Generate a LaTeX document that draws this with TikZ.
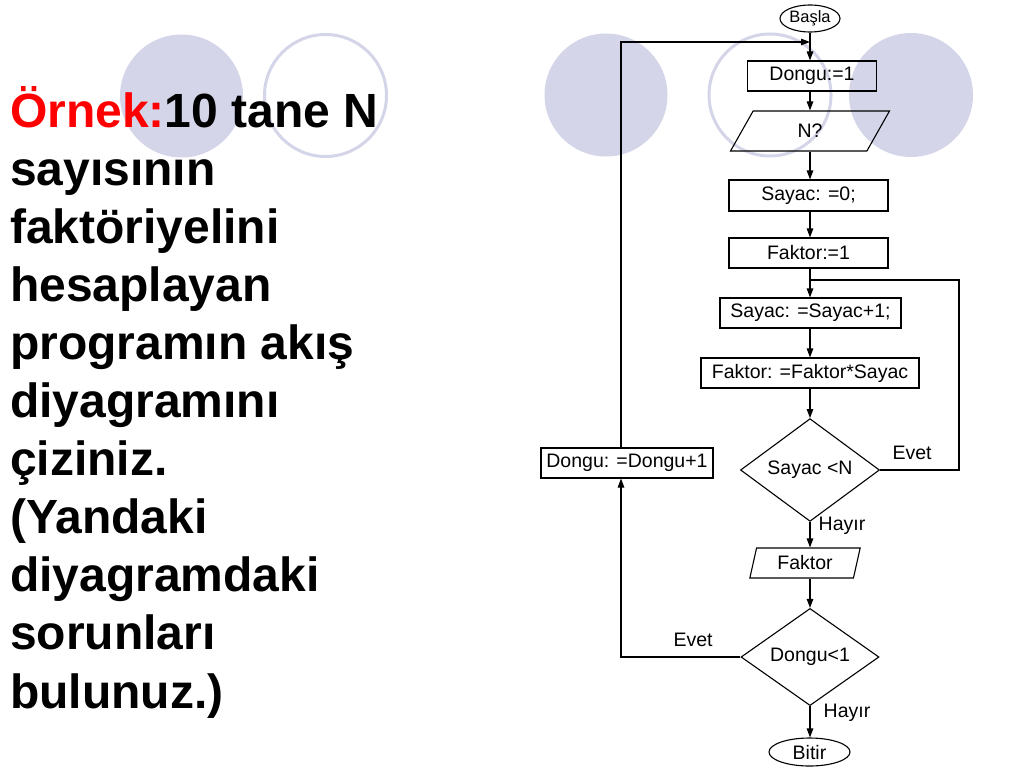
\documentclass[tikz,border=0pt]{standalone}
\usepackage{fontspec}
\setmainfont{Liberation Sans}
\usetikzlibrary{shapes.geometric,arrows.meta}
\definecolor{lavender}{RGB}{213,213,234}
\newcommand\flowfont{\fontsize{19.5}{23}\selectfont}
\tikzset{
  box/.style={draw, line width=1.1pt, inner sep=0pt, minimum height=30pt, font=\flowfont},
  io/.style={box, trapezium, trapezium left angle=70, trapezium right angle=110, trapezium stretches=true},
  term/.style={box, ellipse},
  cond/.style={box, diamond},
  lbl/.style={inner sep=0pt, font=\flowfont},
  flow/.style={line width=1.1pt, -{Triangle[length=9pt,width=6.5pt]}},
  link/.style={line width=1.1pt},
  title/.style={inner sep=0pt, anchor=base west, font=\fontsize{48}{58}\selectfont\bfseries},
}
\begin{document}
\begin{tikzpicture}[x=1pt, y=-1pt]
			%%%%% BACKGROUND %%%%%
			\useasboundingbox[fill=white] (0,0) rectangle (1024,768);
			\fill[lavender] (181.5,96) circle[radius=61.5pt];
			\draw[lavender, line width=3pt] (325.5,95.5) circle[radius=61pt];
			\fill[lavender] (606,95) circle[radius=61.5pt];
			\draw[lavender, line width=3pt] (770,95) circle[radius=61pt];
			\fill[lavender] (911,95) circle[radius=62pt];
			
			%%%%% TEXT %%%%%
			\foreach \txt [count=\i from 0] in {{\textcolor{red}{Örnek:}10 tane N}, {sayısının}, {faktöriyelini}, {hesaplayan}, {programın akış}, {diyagramını}, {çiziniz.}, {(Yandaki}, {diyagramdaki}, {sorunları}, {bulunuz.)}}
				\node[title] (line\i) at (10, {127+58.1*\i}) {\txt};
			
			%%%%% FLOW %%%%%
			\node[term, minimum width=60pt, minimum height=27pt, font=\fontsize{16.5}{19}\selectfont] (start) at (810,18.5) {Başla};
			\node[box, minimum width=129pt] (init) at (812,76) {Dongu:=1};
			\node[io, minimum width=159pt, minimum height=40pt] (read) at (810,131) {N?};
			\node[box, minimum width=159pt, minimum height=31pt] (cnt) at (808.5,195.5) {Sayac: =0;};
			\node[box, minimum width=159pt] (fac) at (808.5,253) {Faktor:=1};
			\node[box, minimum width=181pt] (inc) at (810.5,313) {Sayac: =Sayac+1;};
			\node[box, minimum width=218pt] (mul) at (810,373) {Faktor: =Faktor*Sayac};
			\node[cond, minimum width=139pt, minimum height=100pt] (test) at (810,470) {Sayac <N};
			\node[io, trapezium left angle=75, trapezium right angle=105, minimum width=111pt] (out) at (805,563) {Faktor};
			\node[cond, minimum width=138pt, minimum height=96pt] (check) at (810,657) {Dongu<1};
			\node[term, minimum width=81pt, minimum height=28pt] (stop) at (809.5,752) {Bitir};
			\node[box, minimum width=172pt] (next) at (627,463) {Dongu: =Dongu+1};
			
			\coordinate (axis) at (810,0);
			\coordinate (back) at (810,42);
			\coordinate (lx) at (621,0);
			\coordinate (rx) at (959,280);
			
			\draw[flow] (start.south -| axis) -- (axis |- init.north);
			\draw[flow] (axis |- init.south) -- (axis |- read.north);
			\draw[flow] (axis |- read.south) -- (axis |- cnt.north);
			\draw[flow] (axis |- cnt.south) -- (axis |- fac.north);
			\draw[flow] (axis |- fac.south) -- (axis |- inc.north);
			\draw[flow] (axis |- inc.south) -- (axis |- mul.north);
			\draw[flow] (axis |- mul.south) -- (test.north);
			\draw[flow] (test.south) -- (axis |- out.north);
			\draw[flow] (axis |- out.south) -- (check.north);
			\draw[flow] (check.south) -- (axis |- stop.north);
			
			\draw[link] (test.east) -| (rx) -- (axis |- rx);
			\draw[flow] (check.west) -| (lx |- next.south);
			\draw[flow] (lx |- next.north) |- (back);
			
			\node[lbl] (yes1) at (912,453) {Evet};
			\node[lbl] (no1) at (842,526) {Hayır};
			\node[lbl] (yes2) at (693,640) {Evet};
			\node[lbl] (no2) at (847,713) {Hayır};
\end{tikzpicture}
\end{document}
